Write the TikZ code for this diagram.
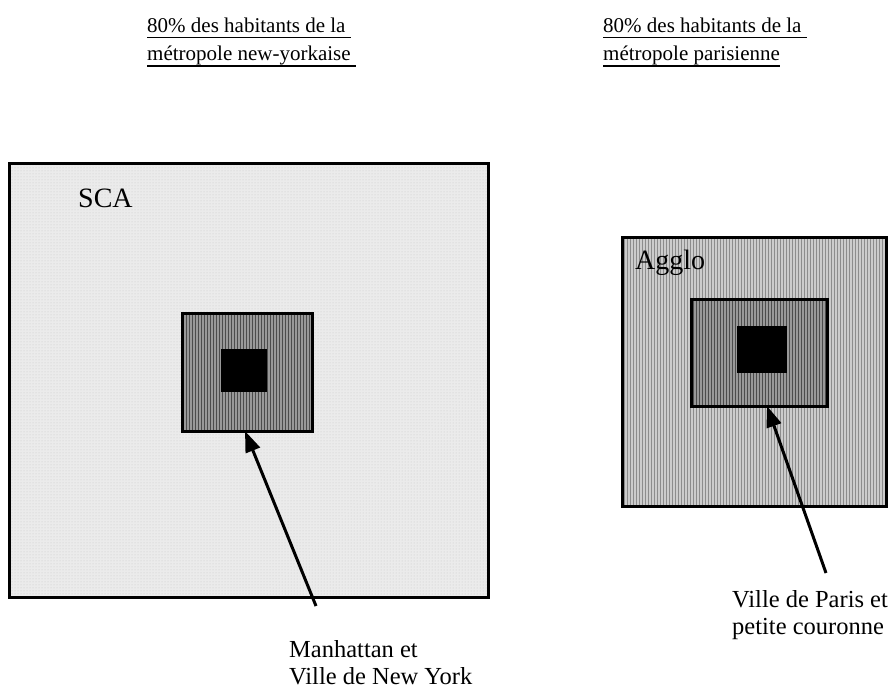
\documentclass[tikz,border=0pt]{standalone}
\usepackage{fontspec}
\setmainfont{Liberation Serif}
\newsavebox{\undlbox}
\newcommand{\undl}[1]{\sbox{\undlbox}{#1}\rlap{\rule[-6pt]{\wd\undlbox}{1.5pt}}\usebox{\undlbox}}
\usetikzlibrary{arrows.meta,patterns}

\begin{document}
\begin{tikzpicture}[x=1pt, y=-1pt,
  zone/.style = {draw, line width=3pt, inner sep=0pt, outer sep=0pt},
  core/.style = {fill=black, inner sep=0pt, outer sep=0pt},
  title/.style = {anchor=north west, align=left, inner sep=0pt,
    font=\fontsize{21}{28.5}\selectfont},
  legend/.style = {anchor=north west, align=left, inner sep=0pt,
    font=\fontsize{24.5}{27}\selectfont},
  tag/.style = {anchor=base west, inner sep=0pt, font=\fontsize{28}{32}\selectfont},
  pointer/.style = {line width=3pt, -{Triangle[length=21pt,width=15pt]}}]
  \useasboundingbox (0,0) rectangle (894,690);

  \node[title] (nyTitle) at (147,17.5) {\undl{80\% des habitants de la\ }\\\undl{métropole new-yorkaise\ }};
  \node[title] (parisTitle) at (603,17.5) {\undl{80\% des habitants de la\ }\\\undl{métropole parisienne}};

  \node[zone, minimum width=479pt, minimum height=434pt,
    preaction={fill=black!8}, pattern=dots, pattern color=black!22] (sca) at (248.5,380) {};
  \node[tag] (scaTag) at (78,207) {SCA};
  \node[zone, minimum width=130pt, minimum height=118pt,
    preaction={fill=black!40}, pattern=vertical lines, pattern color=black!70] (nyCore) at (247,372) {};
  \node[core, minimum width=46pt, minimum height=43pt] (manhattan) at (244,370.5) {};

  \node[zone, minimum width=264pt, minimum height=269pt,
    preaction={fill=black!20}, pattern=vertical lines, pattern color=black!45] (agglo) at (754,371.5) {};
  \node[tag] (aggloTag) at (635,269) {Agglo};
  \node[zone, minimum width=136pt, minimum height=107pt,
    preaction={fill=black!40}, pattern=vertical lines, pattern color=black!70] (pcCore) at (759,352.5) {};
  \node[core, minimum width=50pt, minimum height=47pt] (paris) at (762,349.5) {};

  \node[legend] (nyLabel) at (289,640) {Manhattan et\\Ville de New York};
  \node[legend] (parisLabel) at (732,590.5) {Ville de Paris et\\petite couronne};

  \coordinate (nyFoot) at (316,606);
  \coordinate (parisFoot) at (826,573);
  \draw[pointer] (nyFoot) -- ([xshift=-2pt]nyCore.south);
  \draw[pointer] (parisFoot) -- ([xshift=8pt]pcCore.south);
\end{tikzpicture}
\end{document}
